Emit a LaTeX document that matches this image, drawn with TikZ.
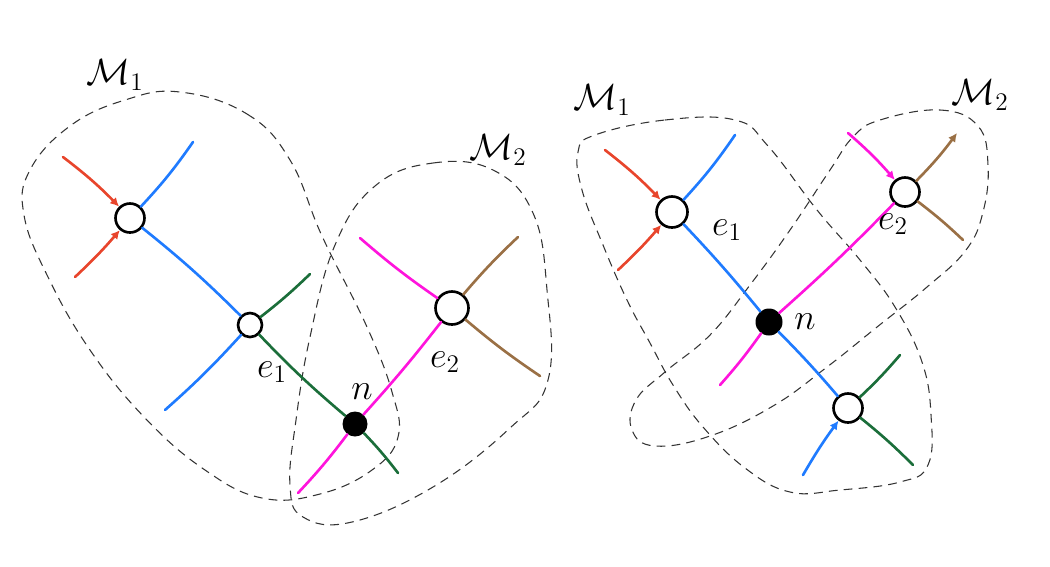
\documentclass[tikz,border=0pt]{standalone}
\usepackage{tikz}
\usetikzlibrary{arrows.meta}
\tikzset{>={Latex[length=5pt,width=5pt]}}
\definecolor{myred}{HTML}{E8452C}
\definecolor{myblue}{HTML}{1F7BFF}
\definecolor{mygreen}{HTML}{1B6E3A}
\definecolor{mypink}{HTML}{FF14DC}
\definecolor{mybrown}{HTML}{9A7045}
\tikzset{
	vtx/.style={circle,draw,line width=1.5pt,fill=white,inner sep=0pt,minimum size=0.58cm},
	dot/.style={circle,fill,inner sep=0pt,minimum size=0.5cm},
	leg/.style={line width=1.5pt,line cap=round},
	blob/.style={black!80,line width=0.6pt,dash pattern=on 5pt off 3.5pt},
	lab/.style={font=\huge}
}
\begin{document}
\begin{tikzpicture}[x=0.02cm,y=-0.02cm]
		\useasboundingbox (0,0) rectangle (1050,566);

		% left: two separate blobs meeting at n
		\draw[blob] plot[smooth cycle,tension=0.7] coordinates {(180,92) (247,114) (290,160) (322,236) (367,327) (392,392) (398,437) (372,470) (320,494) (262,498) (205,470) (145,418) (90,350) (48,277) (24,215) (30,170) (70,126) (125,100)};
		\draw[blob] plot[smooth cycle,tension=0.7] coordinates {(375,186) (433,163) (493,170) (533,213) (547,290) (548,380) (510,428) (433,487) (352,522) (303,517) (290,485) (296,420) (310,337) (335,245)};

		\node[vtx] (A) at (130,218) {};
		\node[vtx,minimum size=0.48cm] (B) at (250,325) {};
		\node[dot] (n) at (355,424) {};
		\node[vtx,minimum size=0.66cm] (C) at (452,308) {};

		\coordinate (a1) at (63,157);
		\coordinate (a2) at (75,277);
		\coordinate (a3) at (193,142);
		\coordinate (b1) at (310,274);
		\coordinate (b2) at (165,410);
		\coordinate (n1) at (398,473);
		\coordinate (n2) at (298,493);
		\coordinate (c1) at (360,238);
		\coordinate (c2) at (518,237);
		\coordinate (c3) at (540,376);

		\draw[leg,myred,->] (a1) to[bend left=4] (A);
		\draw[leg,myred,->] (a2) to[bend right=3] (A);
		\draw[leg,myblue] (A) to[bend right=4] (a3);
		\draw[leg,myblue] (A) to[bend left=3] (B);
		\draw[leg,myblue] (B) to[bend left=3] (b2);
		\draw[leg,mygreen] (B) to[bend right=3] (b1);
		\draw[leg,mygreen] (B) to[bend right=3] (n);
		\draw[leg,mygreen] (n) to[bend left=3] (n1);
		\draw[leg,mypink] (n) to[bend left=3] (n2);
		\draw[leg,mypink] (n) to[bend right=2] (C);
		\draw[leg,mypink] (C) to[bend left=3] (c1);
		\draw[leg,mybrown] (C) to[bend left=3] (c2);
		\draw[leg,mybrown] (C) to[bend right=3] (c3);

		\node[lab] (lM1) at (115,75) {$\mathcal{M}_1$};
		\node[lab] (lM2) at (498,150) {$\mathcal{M}_2$};
		\node[lab] (le1) at (272,372) {$e_1$};
		\node[lab] (ln) at (362,392) {$n$};
		\node[lab] (le2) at (445,362) {$e_2$};

		% right: two crossed blobs sharing n
		\draw[blob] plot[smooth cycle,tension=0.7] coordinates {(595,135) (665,120) (735,120) (768,146) (817,210) (860,260) (895,307) (922,362) (931,415) (928,465) (900,482) (840,490) (790,492) (745,468) (703,427) (673,385) (650,343) (627,300) (603,245) (582,190) (578,152)};
		\draw[blob] plot[smooth cycle,tension=0.7] coordinates {(880,120) (940,110) (978,126) (988,165) (983,212) (966,250) (927,287) (877,327) (827,367) (773,406) (710,436) (655,446) (632,430) (636,400) (665,372) (710,335) (750,285) (790,230) (830,170) (853,137)};

		\node[vtx,minimum size=0.62cm] (D) at (672,212) {};
		\node[dot,minimum size=0.54cm] (m) at (769,322) {};
		\node[vtx] (F) at (848,408) {};
		\node[vtx] (E) at (905,192) {};

		\coordinate (d1) at (605,150);
		\coordinate (d2) at (618,270);
		\coordinate (d3) at (735,135);
		\coordinate (f1) at (900,355);
		\coordinate (f2) at (913,465);
		\coordinate (f3) at (803,475);
		\coordinate (m1) at (720,385);
		\coordinate (e1) at (848,133);
		\coordinate (e3) at (957,133);
		\coordinate (e4) at (963,240);

		\draw[leg,myred,->] (d1) to[bend left=4] (D);
		\draw[leg,myred,->] (d2) to[bend right=3] (D);
		\draw[leg,myblue] (D) to[bend right=4] (d3);
		\draw[leg,myblue] (D) to[bend left=2] (m);
		\draw[leg,myblue] (m) to[bend left=2] (F);
		\draw[leg,myblue,->] (f3) to[bend left=3] (F);
		\draw[leg,mygreen] (F) to[bend right=3] (f1);
		\draw[leg,mygreen] (F) to[bend left=3] (f2);
		\draw[leg,mypink] (m) to[bend left=3] (m1);
		\draw[leg,mypink] (m) to[bend right=2] (E);
		\draw[leg,mypink,->] (e1) to[bend left=4] (E);
		\draw[leg,mybrown,->] (E) to[bend right=4] (e3);
		\draw[leg,mybrown] (E) to[bend left=3] (e4);

		\node[lab] (rM1) at (602,100) {$\mathcal{M}_1$};
		\node[lab] (rM2) at (980,95) {$\mathcal{M}_2$};
		\node[lab] (re1) at (727,230) {$e_1$};
		\node[lab] (rn) at (805,322) {$n$};
		\node[lab] (re2) at (893,224) {$e_2$};
	\end{tikzpicture}
\end{document}
